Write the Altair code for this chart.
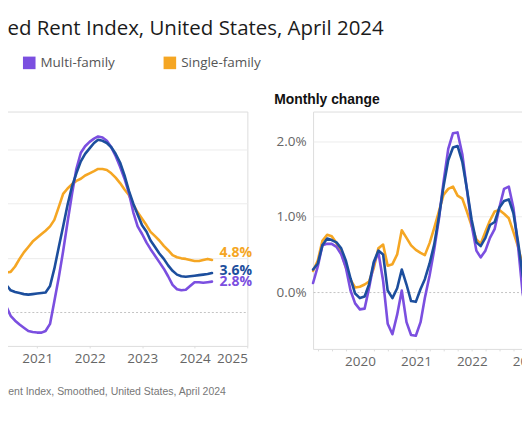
import altair as alt
import pandas as pd

# ---------------- data ----------------
TITLE = "Zillow Observed Rent Index, United States, April 2024"
SOURCE = "Source: Zillow Observed Rent Index, Smoothed, United States, April 2024"
RIGHT_TITLE = "Monthly change"

SERIES = ["All homes", "Multi-family", "Single-family"]
COLORS = ["#1c4e9d", "#7b4fe0", "#f5a623"]
DRAW_ORDER = ["Single-family", "Multi-family", "All homes"]

# Year-over-year change (%), monthly from Mar 2020 to Apr 2024
yoy_first_month = "2020-03"
yoy_all = [4.0, 3.3, 2.5, 2.0, 1.85, 1.75, 1.65, 1.6, 1.65, 1.7,
           1.75, 1.8, 2.4, 4.0, 6.0, 7.9, 9.9, 11.6, 12.8, 13.9,
           14.6, 15.1, 15.6, 15.9, 15.8, 15.6, 15.2, 14.6, 13.8, 12.6,
           11.2, 10.0, 9.0, 8.0, 7.4, 6.6, 6.0, 5.4, 4.9, 4.3,
           3.8, 3.45, 3.3, 3.25, 3.3, 3.35, 3.4, 3.45, 3.5, 3.6]
yoy_multi = [3.4, 2.0, 0.5, -0.35, -0.8, -1.15, -1.45, -1.75, -1.85, -1.9,
             -1.9, -1.75, -1.1, 1.0, 3.2, 5.6, 8.3, 10.9, 13.2, 14.7,
             15.3, 15.7, 16.0, 16.2, 16.1, 15.8, 15.2, 14.4, 13.4, 12.3,
             11.0, 9.2, 7.9, 7.2, 6.4, 5.8, 5.2, 4.6, 4.0, 3.3,
             2.5, 2.1, 2.0, 2.05, 2.4, 2.75, 2.75, 2.7, 2.75, 2.8]
yoy_single = [4.4, 4.0, 3.65, 3.7, 4.2, 4.9, 5.5, 6.0, 6.5, 6.85,
              7.2, 7.5, 7.9, 8.5, 9.7, 10.9, 11.4, 11.8, 12.1, 12.3,
              12.6, 12.8, 13.0, 13.2, 13.2, 13.1, 12.8, 12.4, 11.9, 11.3,
              10.8, 9.9, 9.2, 8.6, 8.0, 7.4, 7.0, 6.6, 6.1, 5.7,
              5.25, 5.05, 4.95, 4.9, 4.8, 4.7, 4.7, 4.8, 4.9, 4.8]

# Month-over-month change (%), monthly from Feb 2019 (visible part, to Jan 2023)
mom_first_month = "2019-02"
mom_all = [0.30, 0.38, 0.62, 0.71, 0.69, 0.66, 0.58, 0.42, 0.18, -0.02,
           -0.08, -0.06, 0.10, 0.40, 0.55, 0.50, 0.02, -0.08, 0.05, 0.30,
           0.10, -0.12, -0.13, 0.04, 0.17, 0.38, 0.63, 1.00, 1.40, 1.75,
           1.92, 1.94, 1.73, 1.37, 0.96, 0.66, 0.61, 0.72, 0.89, 0.93,
           1.12, 1.21, 1.23, 1.05, 0.66, 0.22, -0.08, -0.30]
mom_multi = [0.12, 0.34, 0.62, 0.64, 0.64, 0.60, 0.50, 0.33, 0.02, -0.15,
             -0.23, -0.22, 0.05, 0.38, 0.53, 0.15, -0.42, -0.56, -0.30, 0.02,
             -0.40, -0.57, -0.58, -0.40, -0.08, 0.22, 0.56, 0.97, 1.46, 1.90,
             2.11, 2.12, 1.83, 1.36, 0.89, 0.55, 0.46, 0.55, 0.72, 0.84,
             1.12, 1.37, 1.40, 1.12, 0.60, -0.02, -0.35, -0.42]
mom_single = [0.28, 0.42, 0.68, 0.76, 0.74, 0.65, 0.52, 0.33, 0.16, 0.06,
              0.07, 0.10, 0.14, 0.32, 0.58, 0.63, 0.35, 0.37, 0.50, 0.82,
              0.72, 0.62, 0.56, 0.52, 0.49, 0.65, 0.85, 1.07, 1.29, 1.37,
              1.40, 1.28, 1.24, 1.07, 0.88, 0.70, 0.64, 0.80, 0.95, 1.07,
              1.09, 1.04, 0.98, 0.80, 0.60, 0.35, 0.20, 0.10]

yoy_tick_values = [0, 5, 10, 15]
mom_tick_values = [0, 1, 2]


def month_ends(first, n):
    d = pd.date_range(first + "-01", periods=n, freq="MS") + pd.offsets.MonthEnd(0)
    return d.strftime("%Y-%m-%d").tolist()


def long_frame(first, by_series):
    rows = []
    for name in DRAW_ORDER:
        vals = by_series[name]
        for d, v in zip(month_ends(first, len(vals)), vals):
            rows.append({"date": d, "series": name, "value": v})
    return pd.DataFrame(rows)


df_yoy = long_frame(yoy_first_month, {"All homes": yoy_all, "Multi-family": yoy_multi,
                                      "Single-family": yoy_single})
df_mom = long_frame(mom_first_month, {"All homes": mom_all, "Multi-family": mom_multi,
                                      "Single-family": mom_single})
df_legend = pd.DataFrame({"series": SERIES})


def quarter_ticks(y, m, y_end):
    out = []
    while (y, m) <= (y_end, 1):
        out.append(alt.DateTime(year=y, month=m, date=1, utc=True))
        m += 3
        if m > 12:
            m -= 12
            y += 1
    return out


# ---------------- styling ----------------
FONT = "Open Sans"
LABEL_COLOR = "#666666"
grid_color = {"condition": {"test": "datum.value === 0", "value": "#c4c4c4"}, "value": "#ececec"}
grid_dash = {"condition": {"test": "datum.value === 0", "value": [2, 2]}, "value": []}
color_scale = alt.Scale(domain=SERIES, range=COLORS)
label_expr = "utcmonth(datum.value) === 0 ? utcFormat(datum.value, '%Y') : ''"


def x_axis(values, **extra):
    return alt.Axis(values=values, labelExpr=label_expr, labelFlush=True, labelOverlap=False,
                    domain=False, grid=False, ticks=True, tickSize=2, tickColor="#dddddd",
                    labelPadding=3.5, labelFont=FONT, labelFontSize=13.5,
                    labelColor=LABEL_COLOR, **extra)


def y_axis(values, **extra):
    return alt.Axis(values=values, labelExpr="format(datum.value, '.1f') + '%'",
                    domain=False, ticks=False, grid=True, gridColor=grid_color,
                    gridDash=grid_dash, gridWidth=1, labelFont=FONT,
                    labelFontSize=13.5, labelColor=LABEL_COLOR, title=None, **extra)


# ---------------- left panel: annual change ----------------
x_left_scale = alt.Scale(type="utc", nice=False,
                         domain=[alt.DateTime(year=2019, month=1, date=1, utc=True),
                                 alt.DateTime(year=2025, month=1, date=1, utc=True)])
x_left = alt.X(
    "date:T", scale=x_left_scale,
    axis=x_axis(quarter_ticks(2019, 1, 2025), title=SOURCE, titleX=-49, titleY=45.4,
                titleAlign="left", titleAnchor="start", titleBaseline="middle",
                titleFont="Liberation Sans", titleFontSize=10.5, titleFontWeight="normal",
                titleColor="#777777"),
)
y_left = alt.Y("value:Q", scale=alt.Scale(domain=[-3.13, 18.5], nice=False, zero=False),
               axis=y_axis(yoy_tick_values, labelAlign="left", labelPadding=90))
series_color = alt.Color("series:N", scale=color_scale, legend=None, sort=SERIES)

left_lines = alt.Chart(df_yoy).mark_line(strokeWidth=2.6, strokeJoin="round", strokeCap="round").encode(
    x=x_left, y=y_left, color=series_color,
)

ends = df_yoy.groupby("series", sort=False).tail(1).copy()
ends["label"] = ends["value"].map(lambda v: f"{v:.1f}%")
label_dy = {"Single-family": -6.8, "All homes": -1.6, "Multi-family": 0.8}
end_layers = []
for name, col in zip(SERIES, COLORS):
    end_layers.append(
        alt.Chart(ends[ends["series"] == name]).mark_text(
            align="left", baseline="middle", dx=7.5, dy=label_dy[name],
            font=FONT, fontSize=14, fontWeight="bold",
        ).encode(x="date:T", y="value:Q", text="label:N", color=alt.value(col))
    )

# colour key, drawn above the panels from the series list
key_x = alt.X("series:N", sort=SERIES, axis=None,
              scale=alt.Scale(type="point", domain=SERIES, range=[-43.6, 238.4], padding=0))
key_squares = alt.Chart(df_legend).mark_square(size=159, filled=True, opacity=1).encode(
    x=key_x, y=alt.value(-48.8), color=series_color)
key_labels = alt.Chart(df_legend).mark_text(
    align="left", baseline="middle", dx=11.3, font=FONT, fontSize=13.5, color="#555555"
).encode(x=key_x, y=alt.value(-48.8), text="series:N")
key = alt.layer(key_squares, key_labels)

left = alt.layer(
    alt.layer(left_lines, *end_layers), key
).resolve_scale(x="independent").properties(width=316.1, height=235)

# ---------------- right panel: monthly change ----------------
x_right = alt.X(
    "date:T",
    scale=alt.Scale(type="utc", nice=False,
                    domain=[alt.DateTime(year=2019, month=2, date=28, utc=True),
                            alt.DateTime(year=2025, month=1, date=1, utc=True)]),
    axis=x_axis(quarter_ticks(2019, 4, 2025), title=None),
)
y_right = alt.Y("value:Q", scale=alt.Scale(domain=[-0.755, 2.397], nice=False, zero=False),
                axis=y_axis(mom_tick_values, labelPadding=7))

right = alt.Chart(df_mom).mark_line(strokeWidth=2.6, strokeJoin="round", strokeCap="round").encode(
    x=x_right, y=y_right, color=series_color,
).properties(
    width=327.2, height=238,
    title=alt.TitleParams(RIGHT_TITLE, anchor="start", frame="group", dx=-39, offset=-6.5,
                          baseline="alphabetic", font="Liberation Sans", fontSize=13.9,
                          fontWeight="bold", color="#111111"),
)

chart = alt.hconcat(left, right, spacing=65, bounds="flush").properties(
    title=alt.TitleParams(TITLE, anchor="start", frame="group", dx=-53.6, offset=0,
                          baseline="alphabetic", font=FONT, fontSize=20.5,
                          fontWeight="normal", color="#1b1b1b"),
    padding={"left": -167.1, "top": 10.3, "right": -118.5, "bottom": 0},
).configure_view(stroke=None).configure(font=FONT)

chart.save("out.html", embed_options={"renderer": "svg", "actions": False})
